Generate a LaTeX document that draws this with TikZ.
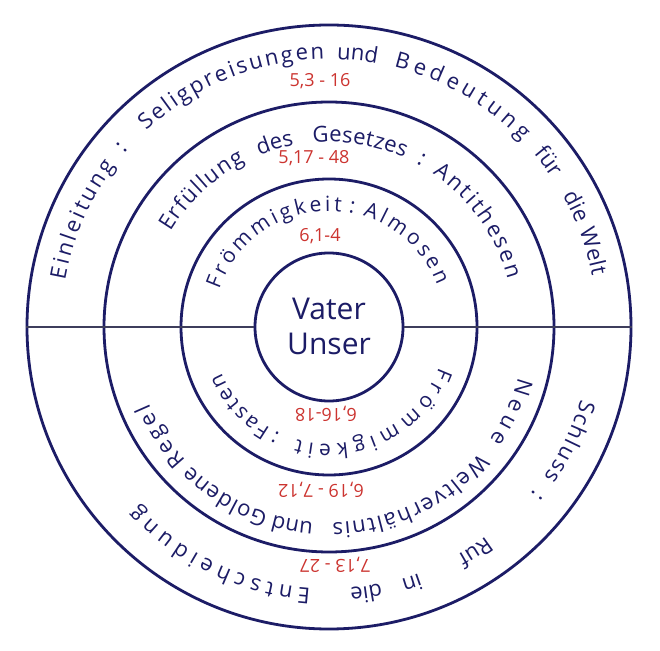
\documentclass[tikz,border=0pt]{standalone}
\usepackage{fontspec}
\setmainfont{Open Sans}
\usetikzlibrary{decorations.text}
\definecolor{navy}{RGB}{28,28,102}
\definecolor{verse}{RGB}{204,52,48}
\definecolor{axisline}{RGB}{62,62,92}
% [align], radius, start angle, end angle, font size, text
\newcommand{\ringtext}[6][fit to path]{%
  \path[decorate,decoration={text along path,text align=#1,
    text={|\fontsize{#5}{#5}\selectfont\color{navy}|#6}}]
    (C) ++(#3:#2) arc[start angle=#3,end angle=#4,radius=#2];}
\begin{document}
\begin{tikzpicture}[x=1pt,y=1pt,
  ring/.style={circle,draw=navy,line width=2.8pt,inner sep=0pt,fill=none},
  versenum/.style={text=verse,font=\fontsize{18}{18}\selectfont,inner sep=0pt},
  centerlabel/.style={text=navy,align=center,font=\fontsize{30}{35}\selectfont,inner sep=0pt}]
\fill[white] (0,0) rectangle (660,650);
\useasboundingbox (0,0) rectangle (660,650);
\coordinate (C) at (329,323);

% circles
\node[ring,minimum size=604pt] (r1) at (C) {};
\node[ring,minimum size=450pt] (r2) at (C) {};
\node[ring,minimum size=296pt] (r3) at (C) {};
\node[ring,minimum size=148pt] (r4) at (C) {};

% horizontal divider
\draw[axisline,line width=2pt] (r1.west) -- (r4.west);
\draw[axisline,line width=2pt] (r4.east) -- (r1.east);

% centre
\node[centerlabel] (vu) at ([yshift=1pt]C) {Vater\\Unser};

% outer ring, top
\ringtext{268}{170}{143}{22}{Einleitung}
\ringtext[center]{268}{143}{135}{22}{:}
\ringtext{268}{133}{91}{22}{Seligpreisungen}
\ringtext[center]{268}{92}{76}{22}{und}
\ringtext{268}{76}{44}{22}{Bedeutung}
\ringtext[center]{268}{44}{30}{22}{für}
\ringtext[center]{268}{31}{21}{22}{die}
\ringtext{268}{21}{11}{22}{Welt}

% middle ring, top
\ringtext{185}{149}{117}{22}{Erfüllung}
\ringtext[center]{185}{114}{99}{22}{des}
\ringtext{185}{95}{66}{22}{Gesetzes}
\ringtext[center]{185}{65}{57}{22}{:}
\ringtext{185}{56}{15}{22}{Antithesen}

% inner ring, top
\ringtext{116}{161}{84}{21}{Frömmigkeit}
\ringtext[center]{116}{84}{74}{21}{:}
\ringtext{116}{73}{21}{21}{Almosen}

% inner ring, bottom
\ringtext{117}{-20}{-106}{21}{Frömmigkeit}
\ringtext[center]{117}{-111}{-121}{21}{:}
\ringtext{117}{-120}{-157}{21}{Fasten}

% middle ring, bottom
\ringtext{196}{-15}{-35}{22}{Neue}
\ringtext{196}{-40}{-89}{22}{Weltverhältnis}
\ringtext[center]{196}{-93}{-108}{22}{und}
\ringtext{196}{-108}{-135}{22}{Goldene}
\ringtext{196}{-137}{-157}{22}{Regel}

% outer ring, bottom
\ringtext{262}{-16}{-35}{22}{Schluss}
\ringtext[center]{262}{-35}{-43}{22}{:}
\ringtext[center]{262}{-50}{-64}{22}{Ruf}
\ringtext[center]{262}{-66}{-78}{22}{in}
\ringtext[center]{262}{-76}{-88}{22}{die}
\ringtext{262}{-94}{-137}{22}{Entscheidung}

% verse references
\node[versenum] (v1) at (320,569) {5,3 - 16};
\node[versenum] (v2) at (314,492) {5,17 - 48};
\node[versenum] (v3) at (320,414) {6,1-4};
\node[versenum,rotate=180] (v4) at (326,236) {6,16-18};
\node[versenum,rotate=180] (v5) at (321,160) {6,19 - 7,12};
\node[versenum,rotate=180] (v6) at (335,85) {7,13 - 27};
\end{tikzpicture}
\end{document}
